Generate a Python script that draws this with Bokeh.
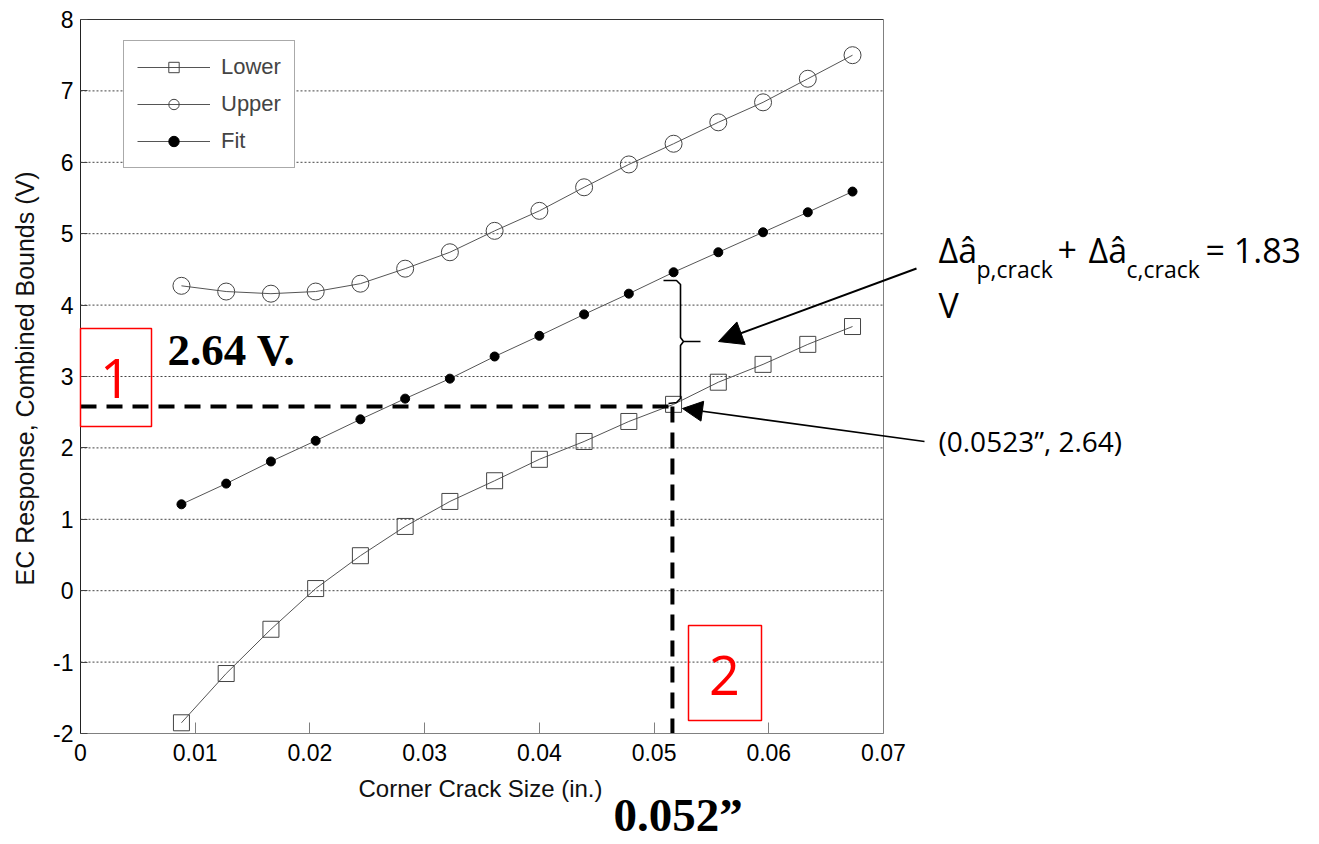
import math
from bokeh.plotting import figure
from bokeh.models import (Range1d, FixedTicker, Legend, LegendItem, Label, Arrow,
                          NormalHead, BoxAnnotation)
from bokeh.embed import file_html
from bokeh.resources import INLINE

# ---------------- data ----------------
crack_size = [0.0088, 0.0127, 0.0166, 0.0205, 0.0244, 0.0283, 0.0322, 0.0361,
              0.0400, 0.0439, 0.0478, 0.0517, 0.0556, 0.0595, 0.0634, 0.0673]
lower = [-1.85, -1.16, -0.54, 0.03, 0.49, 0.90, 1.25, 1.54,
         1.84, 2.09, 2.37, 2.61, 2.92, 3.17, 3.45, 3.70]
upper = [4.27, 4.19, 4.16, 4.19, 4.30, 4.51, 4.74, 5.04,
         5.32, 5.65, 5.97, 6.26, 6.56, 6.84, 7.17, 7.50]
fit = [1.21, 1.50, 1.81, 2.10, 2.40, 2.69, 2.97, 3.28,
       3.57, 3.87, 4.16, 4.46, 4.74, 5.02, 5.30, 5.59]
x_ticks = [0, 0.01, 0.02, 0.03, 0.04, 0.05, 0.06, 0.07]
x_tick_labels = ["0", "0.01", "0.02", "0.03", "0.04", "0.05", "0.06", "0.07"]
y_ticks = [-2, -1, 0, 1, 2, 3, 4, 5, 6, 7, 8]
y_tick_labels = ["-2", "-1", "0", "1", "2", "3", "4", "5", "6", "7", "8"]
marked_size = 0.0516      # drawn position of the 0.052" marker line
marked_response = 2.58    # drawn position of the 2.64 V marker line

# ---------------- layout ----------------
W, H = 1316, 844
PAGE = 0
AX_L, AX_R, AX_T, AX_B = 80, 883, 19, 733   # axes box in picture px
XMIN, XMAX = x_ticks[0], x_ticks[-1]
YMIN, YMAX = y_ticks[0], y_ticks[-1]


def X(px):  # picture px -> data x
    return XMIN + (px - AX_L) / (AX_R - AX_L) * (XMAX - XMIN)


def Y(py):  # picture px -> data y
    return YMAX - (py - AX_T) / (AX_B - AX_T) * (YMAX - YMIN)


SANS = "Liberation Sans"
CAL = "Open Sans"

# the frame covers the whole canvas so that nothing is clipped;
# axes are pinned at the data box edges
p = figure(width=W, height=H, output_backend="svg", toolbar_location=None,
           x_range=Range1d(X(PAGE), X(PAGE + W)),
           y_range=Range1d(Y(PAGE + H), Y(PAGE)),
           min_border=0, min_border_left=0, min_border_right=0,
           min_border_top=0, min_border_bottom=0)
p.background_fill_color = "white"
p.border_fill_color = "white"
p.outline_line_color = None
p.xgrid.visible = False
p.ygrid.visible = False

xa, ya = p.xaxis[0], p.yaxis[0]
xa.fixed_location = YMIN
ya.fixed_location = XMIN
xa.bounds = (XMIN, XMAX)
ya.bounds = (YMIN, YMAX)
xa.ticker = FixedTicker(ticks=x_ticks)
ya.ticker = FixedTicker(ticks=y_ticks)
xa.major_label_overrides = {t: s for t, s in zip(x_ticks, x_tick_labels)}
ya.major_label_overrides = {t: s for t, s in zip(y_ticks, y_tick_labels)}
for ax in (xa, ya):
    ax.major_label_text_font = SANS
    ax.major_label_text_font_size = "23px"
    ax.major_label_text_color = "black"
    ax.minor_tick_line_color = None
    ax.major_tick_out = 0
xa.major_tick_in = 11
ya.major_tick_in = 7
xa.axis_line_color = "#808080"
xa.major_tick_line_color = "#808080"
ya.axis_line_color = "#222222"
ya.major_tick_line_color = "#444444"
xa.major_label_standoff = 10
ya.major_label_standoff = 7

# grid lines (dotted) and top/right box edges
inner = y_ticks[1:-1]
p.segment(x0=[XMIN] * len(inner), x1=[XMAX] * len(inner), y0=inner, y1=inner,
          line_color="#444444", line_width=1, line_dash="2 2")
p.line([XMIN, XMAX], [YMAX, YMAX], line_color="#333333", line_width=1)
p.line([XMAX, XMAX], [YMIN, YMAX], line_color="#808080", line_width=1)

# series
LC = "#555555"
l_line = p.line(crack_size, lower, line_color=LC, line_width=1)
l_mark = p.scatter(crack_size, lower, marker="square", size=16,
                   fill_color="white", fill_alpha=0, line_color="#444444", line_width=1)
u_line = p.line(crack_size, upper, line_color=LC, line_width=1)
u_mark = p.scatter(crack_size, upper, marker="circle", size=17,
                   fill_color="white", fill_alpha=0, line_color="#444444", line_width=1)
f_line = p.line(crack_size, fit, line_color=LC, line_width=1)
f_mark = p.scatter(crack_size, fit, marker="circle", size=9,
                   fill_color="black", line_color="black")

legend = Legend(items=[LegendItem(label="Lower", renderers=[l_line, l_mark]),
                       LegendItem(label="Upper", renderers=[u_line, u_mark]),
                       LegendItem(label="Fit", renderers=[f_line, f_mark])],
                location=(123 - PAGE, PAGE + H - 168))
legend.label_text_font = SANS
legend.label_text_font_size = "22px"
legend.glyph_width = 73
legend.glyph_height = 26
legend.label_height = 26
legend.label_standoff = 11
legend.spacing = 11
legend.padding = 13
legend.margin = 0
legend.border_line_color = "#555555"
legend.border_line_width = 1
legend.background_fill_alpha = 1
p.add_layout(legend)

# dashed marker lines
DASH = "16 10"
p.line([XMIN, marked_size], [marked_response, marked_response],
       line_color="black", line_width=4, line_dash=DASH)
p.line([marked_size, marked_size], [marked_response, YMIN],
       line_color="black", line_width=4, line_dash=DASH)

# curly brace between fit and lower at the marker
brace_x = [X(663), X(676), X(680), X(680), X(683), X(700), X(683), X(680), X(680), X(676), X(668)]
brace_y = [Y(280), Y(280), Y(284), Y(337), Y(341), Y(341), Y(341), Y(345), Y(398), Y(402), Y(403)]
p.line(brace_x, brace_y, line_color="black", line_width=1.6)

# arrows
p.add_layout(Arrow(end=NormalHead(size=24, fill_color="black", line_color="black"),
                   x_start=X(916), y_start=Y(268), x_end=X(718), y_end=Y(341),
                   line_color="black", line_width=2))
p.add_layout(Arrow(end=NormalHead(size=20, fill_color="black", line_color="black"),
                   x_start=X(924), y_start=Y(441), x_end=X(682), y_end=Y(408),
                   line_color="black", line_width=1.6))

# red boxes
for l, r, t, b in [(80, 151, 328, 426), (688, 761, 625, 720)]:
    p.add_layout(BoxAnnotation(left=X(l), right=X(r), top=Y(t), bottom=Y(b),
                               fill_alpha=0, line_color="red", line_alpha=1,
                               line_width=1.5))

BASE_SHIFT = 0.4   # measured offset of the rendered baseline, in em


def label(txt, px, py, font, size, color="black", style="normal", align="left",
          angle=0.0):
    if angle == 0.0:
        py = py - BASE_SHIFT * size
    else:
        px = px - BASE_SHIFT * size
    p.add_layout(Label(x=X(px), y=Y(py), text=txt, text_font=font,
                       text_font_size=f"{size}px", text_color=color,
                       text_font_style=style, text_align=align,
                       text_baseline="alphabetic", angle=angle))


# axis titles
label("Corner Crack Size (in.)", 480, 798, SANS, 24, color="#111111", align="center")
label("EC Response, Combined Bounds (V)", 34, 378, SANS, 25, color="#111111",
      align="center", angle=math.pi / 2)

# call-outs
label("1", 115, 400, CAL, 54, color="red", align="center")
label("2", 724, 697, CAL, 54, color="red", align="center")
label("2.64 V.", 167, 367, "Liberation Serif", 45, style="bold")
label("0.052\u201d", 613, 833, "Liberation Serif", 47, style="bold")

label("\u0394\u00e2", 938, 263, CAL, 34)
label("p,crack", 976, 278, CAL, 23)
label("+", 1057, 263, CAL, 34)
label("\u0394\u00e2", 1088, 263, CAL, 34)
label("c,crack", 1126, 278, CAL, 23)
label("= 1.83", 1205, 263, CAL, 34)
label("V", 938, 318, CAL, 34)
label("(0.0523\u201d, 2.64)", 938, 452, CAL, 28)

open("out.html", "w").write(file_html(p, INLINE))
